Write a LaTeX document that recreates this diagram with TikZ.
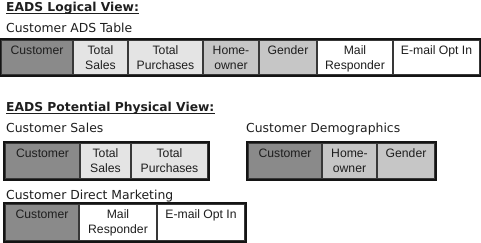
\documentclass[tikz,border=0pt]{standalone}
\usepackage{fontspec}
\setmainfont{DejaVu Sans}
\newfontfamily\cellfont{Liberation Sans}
\usetikzlibrary{fit}
\definecolor{keygray}{HTML}{8A8A8A}
\definecolor{salesgray}{HTML}{E4E4E4}
\definecolor{demogray}{HTML}{C6C6C6}
\definecolor{inkcol}{HTML}{1E1E1E}
\tikzset{
  heading/.style={anchor=base west, inner sep=0pt, text=inkcol,
    font=\fontsize{12.3}{14}\selectfont\bfseries},
  caption/.style={anchor=base west, inner sep=0pt, text=inkcol,
    font=\fontsize{12.4}{14}\selectfont},
  uline/.style={line width=1.3pt, draw=inkcol},
  cellbox/.style={inner sep=0pt, draw=black!78, line width=1.2pt},
  celltext/.style={anchor=north, inner sep=0pt, align=center, text=inkcol,
    font=\cellfont\fontsize{12.2}{15}\selectfont, yshift=-5.8pt},
  frame/.style={inner sep=0pt, draw=black!92, line width=2pt}
}
% \tabcell{name}{x left}{x right}{y top}{y bottom}{fill}{text}
\newcommand\tabcell[7]{%
  \node[cellbox, fill=#6, fit={(#2,#4) (#3,#5)}] (#1) {};
  \node[celltext] (#1-t) at (#1.north) {\vphantom{Tl}#7};
}
\begin{document}
\begin{tikzpicture}[x=1pt, y=-1pt]
\useasboundingbox (0,0) rectangle (481,242);

% ---- logical view ----
\node[heading] (h1) at (6,11.5) {EADS Logical View:};
\draw[uline] ([yshift=-2.2pt]h1.base west) -- ([yshift=-2.2pt]h1.base east);
\node[caption] (c1) at (6,32) {Customer ADS Table};

\tabcell{a1}{1}{73}{40}{75}{keygray}{Customer}
\tabcell{a2}{73}{128}{40}{75}{salesgray}{Total\\Sales}
\tabcell{a3}{128}{203}{40}{75}{salesgray}{Total\\Purchases}
\tabcell{a4}{203}{259}{40}{75}{demogray}{Home-\\owner}
\tabcell{a5}{259}{317}{40}{75}{demogray}{Gender}
\tabcell{a6}{317}{393}{40}{75}{white}{Mail\\Responder}
\tabcell{a7}{393}{480}{40}{75}{white}{E-mail Opt In}
\node[frame, fit=(a1)(a7)] (ta) {};

% ---- physical view ----
\node[heading] (h2) at (6,111.5) {EADS Potential Physical View:};
\draw[uline] ([yshift=-2.2pt]h2.base west) -- ([yshift=-2.2pt]h2.base east);

\node[caption] (c2) at (6,132) {Customer Sales};
\tabcell{b1}{5}{80}{143}{179}{keygray}{Customer}
\tabcell{b2}{80}{131}{143}{179}{salesgray}{Total\\Sales}
\tabcell{b3}{131}{208}{143}{179}{salesgray}{Total\\Purchases}
\node[frame, fit=(b1)(b3)] (tb) {};

\node[caption] (c3) at (246,132) {Customer Demographics};
\tabcell{d1}{248}{322}{143}{179}{keygray}{Customer}
\tabcell{d2}{322}{377}{143}{179}{demogray}{Home-\\owner}
\tabcell{d3}{377}{435}{143}{179}{demogray}{Gender}
\node[frame, fit=(d1)(d3)] (td) {};

\node[caption] (c4) at (6,199) {Customer Direct Marketing};
\tabcell{m1}{5}{79}{204}{241}{keygray}{Customer}
\tabcell{m2}{79}{157}{204}{241}{white}{Mail\\Responder}
\tabcell{m3}{157}{245}{204}{241}{white}{E-mail Opt In}
\node[frame, fit=(m1)(m3)] (tm) {};
\end{tikzpicture}
\end{document}
